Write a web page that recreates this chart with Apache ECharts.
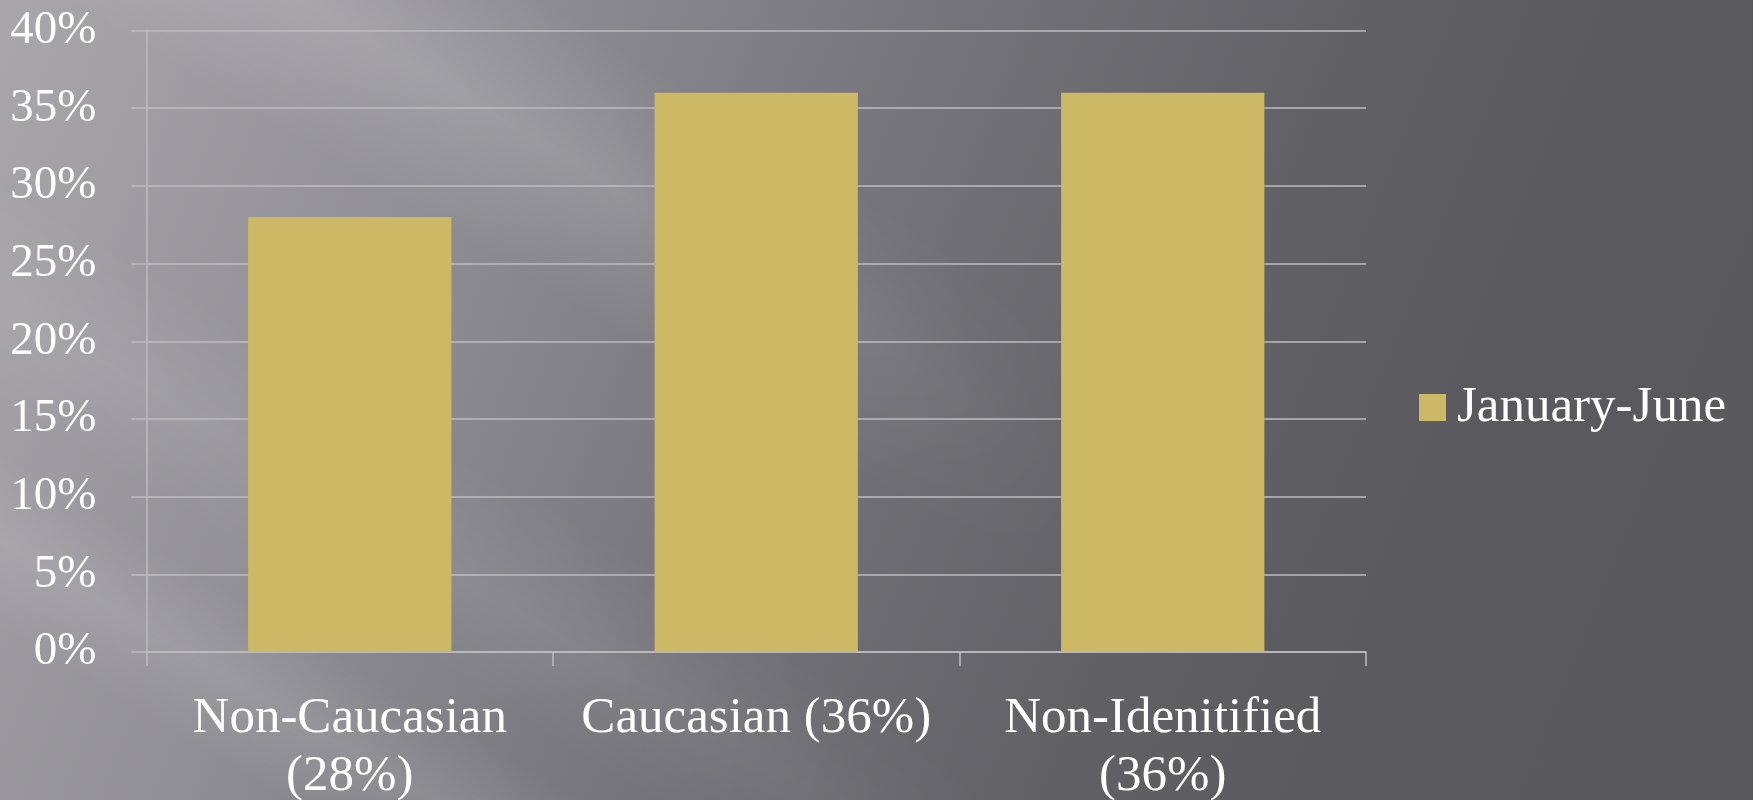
<!DOCTYPE html>
<html>
<head>
<meta charset="utf-8">
<script src="https://cdn.jsdelivr.net/npm/echarts@6/dist/echarts.min.js"></script>
<style>
  html, body { margin: 0; padding: 0; }
  #wrap {
    position: relative; width: 1753px; height: 800px; overflow: hidden;
    background: linear-gradient(112deg, #aaa7ac 0%, #8f8e94 25%, #76757b 45%, #626166 65%, #5a595e 80%, #59585d 100%);
  }
  #streaks {
    position: absolute; left: 0; top: 0; width: 1753px; height: 800px;
    background: linear-gradient(31deg,
      rgba(255,255,255,0) 9%, rgba(255,255,255,0.10) 14%, rgba(255,255,255,0) 19%,
      rgba(255,255,255,0) 21%, rgba(255,255,255,0.07) 27%, rgba(255,255,255,0) 34%,
      rgba(255,255,255,0) 45%, rgba(255,255,255,0.14) 53%, rgba(255,255,255,0) 61%);
    -webkit-mask-image: linear-gradient(to right, #000 0%, #000 35%, rgba(0,0,0,0) 62%);
    mask-image: linear-gradient(to right, #000 0%, #000 35%, rgba(0,0,0,0) 62%);
  }
  #chart { position: absolute; left: 0; top: 0; width: 1753px; height: 800px; }
</style>
</head>
<body>
<div id="wrap">
  <div id="streaks"></div>
  <div id="chart"></div>
</div>
<script>
const categories = ['Non-Caucasian\n(28%)', 'Caucasian (36%)', 'Non-Idenitified\n(36%)'];
const seriesName = 'January-June';
const values = [28, 36, 36];
const yMin = 0, yMax = 40, yInterval = 5;

const chart = echarts.init(document.getElementById('chart'));
const serif = '"Liberation Serif", "DejaVu Serif", serif';
chart.setOption({
  backgroundColor: 'transparent',
  animation: false,
  grid: { left: 146.5, right: 387, top: 30.5, bottom: 148, containLabel: false, outerBoundsMode: 'none' },
  legend: {
    data: [seriesName],
    left: 1414, top: 377,
    icon: 'rect', itemWidth: 27, itemHeight: 27,
    textStyle: { color: '#ffffff', fontFamily: serif, fontSize: 51, padding: [0, 0, 0, 6] }
  },
  xAxis: {
    type: 'category',
    data: categories,
    boundaryGap: true,
    axisLine: { show: true, lineStyle: { color: '#bdbcbf', width: 1.5 } },
    axisTick: { show: true, length: 14, alignWithLabel: false, lineStyle: { color: '#bdbcbf', width: 1.5 } },
    axisLabel: { color: '#ffffff', fontFamily: serif, fontSize: 51, lineHeight: 58, margin: 38, interval: 0 },
    splitLine: { show: false }
  },
  yAxis: {
    type: 'value',
    min: yMin, max: yMax, interval: yInterval,
    axisLine: { show: true, lineStyle: { color: '#bdbcbf', width: 1.5 } },
    axisTick: { show: true, length: 15, lineStyle: { color: '#bdbcbf', width: 1.5 } },
    axisLabel: { color: '#ffffff', fontFamily: serif, fontSize: 47, margin: 50, formatter: '{value}%' },
    splitLine: { show: true, lineStyle: { color: '#bdbcbf', width: 1.5 } }
  },
  series: [{
    name: seriesName,
    type: 'bar',
    data: values,
    barWidth: '50%',
    itemStyle: { color: '#cdb865' }
  }]
});
</script>
</body>
</html>
